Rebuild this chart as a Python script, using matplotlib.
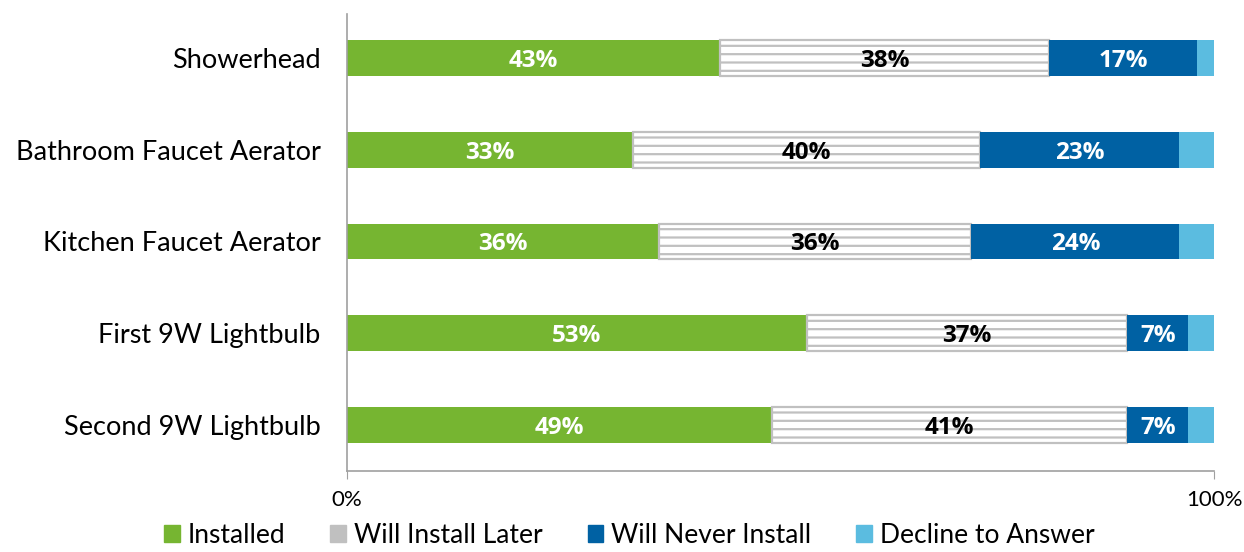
import matplotlib
matplotlib.use("Agg")
import matplotlib.pyplot as plt
import numpy as np
from matplotlib.patches import Patch

plt.rcParams['font.family'] = ['Lato', 'DejaVu Sans']
plt.rcParams['hatch.linewidth'] = 1.6

items = ["Showerhead", "Bathroom Faucet Aerator", "Kitchen Faucet Aerator",
         "First 9W Lightbulb", "Second 9W Lightbulb"]
installed = [43, 33, 36, 53, 49]
later = [38, 40, 36, 37, 41]
never = [17, 23, 24, 7, 7]
decline = [2, 4, 4, 3, 3]

series = ["Installed", "Will Install Later", "Will Never Install", "Decline to Answer"]
green = "#76b531"
gray = "#c0c0c0"
blue = "#0061a3"
lblue = "#5bbce0"

fig = plt.figure(figsize=(12.44, 5.52), dpi=100)
ax = fig.add_axes([0.279, 0.147, 0.697, 0.828])

y = np.arange(len(items))
h = 0.39
left = np.zeros(len(items))

b1 = ax.barh(y, installed, h, left=left, color=green, linewidth=0)
left += installed
b2 = ax.barh(y, later, h, left=left, facecolor="white", edgecolor=gray,
             hatch="--", linewidth=1.6)
left += later
b3 = ax.barh(y, never, h, left=left, color=blue, linewidth=0)
left += never
b4 = ax.barh(y, decline, h, left=left, color=lblue, linewidth=0)

# value labels in the middle of each segment
for bars, vals, col in [(b1, installed, "white"), (b2, later, "black"), (b3, never, "white")]:
    for r, v in zip(bars, vals):
        ax.text(r.get_x() + r.get_width() / 2, r.get_y() + r.get_height() / 2,
                f"{v}%", ha="center", va="center_baseline", color=col,
                fontsize=17.5, fontweight="bold", family=["Open Sans", "DejaVu Sans"])

ax.set_xlim(0, 100)
ax.set_ylim(4.5, -0.48)
ax.set_yticks(y)
ax.set_yticklabels(items, fontsize=19.5)
ax.tick_params(axis="y", length=0, pad=19)
ax.set_xticks([0, 100])
ax.set_xticklabels(["0%", "100%"], fontsize=16)
ax.tick_params(axis="x", length=6, color="#a0a0a0", pad=8)
for s in ["top", "right"]:
    ax.spines[s].set_visible(False)
for s in ["left", "bottom"]:
    ax.spines[s].set_color("#a0a0a0")
    ax.spines[s].set_linewidth(1.2)

handles = [Patch(color=green), Patch(color=gray), Patch(color=blue), Patch(color=lblue)]
fig.legend(handles, series, loc="lower center", ncol=4, frameon=False,
           fontsize=19, handlelength=0.6, handleheight=0.6, handletextpad=0.3,
           columnspacing=1.7, bbox_to_anchor=(0.506, -0.036))

fig.savefig("out.png", dpi=100)
